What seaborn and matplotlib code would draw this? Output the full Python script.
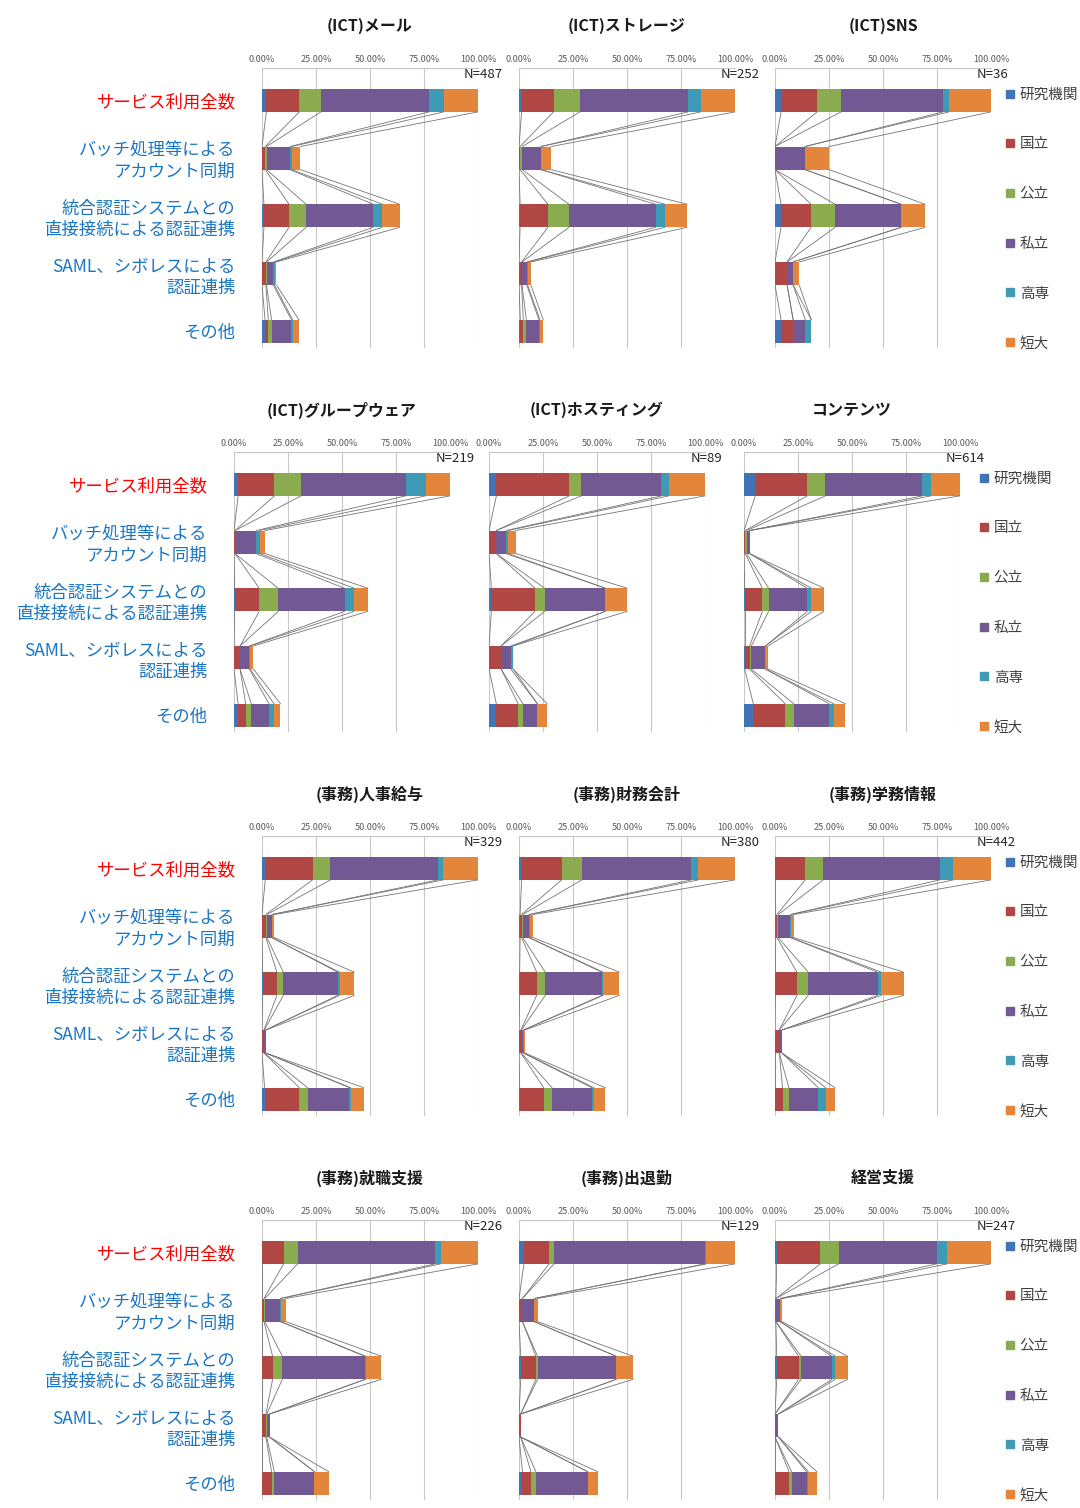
import numpy as np
import pandas as pd
import matplotlib
matplotlib.use("Agg")
import matplotlib.pyplot as plt
from matplotlib.lines import Line2D
import seaborn as sns

sns.set_style("white")
plt.rcParams['font.family'] = ['Noto Sans CJK JP', 'DejaVu Sans']

# categories (rows of each panel) and series (stack segments)
categories = ['サービス利用全数',
              'バッチ処理等による\nアカウント同期',
              '統合認証システムとの\n直接接続による認証連携',
              'SAML、シボレスによる\n認証連携',
              'その他']
series = ['研究機関', '国立', '公立', '私立', '高専', '短大']
colors = ['#4273b5', '#b04745', '#8aac4e', '#735993', '#3e9ab5', '#e3853a']

# share of N (%) per category, series order as above
mail = [[2.0, 15.3, 10.0, 50.1, 6.8, 15.8],
        [0.0, 1.5, 0.6, 10.8, 0.9, 3.9],
        [0.9, 11.6, 7.9, 31.1, 4.2, 8.0],
        [0.0, 1.8, 0.3, 3.1, 0.6, 0.9],
        [1.4, 1.5, 1.5, 9.2, 0.6, 2.9]]
storage = [[1.2, 14.8, 12.2, 50.1, 5.8, 15.9],
           [0.0, 0.5, 1.0, 8.5, 0.3, 4.6],
           [0.5, 12.9, 9.7, 40.1, 4.3, 10.3],
           [0.0, 1.2, 0.2, 2.2, 0.4, 1.5],
           [0.6, 1.4, 1.4, 5.8, 0.5, 1.5]]
sns_data = [[2.8, 16.7, 11.1, 47.2, 2.8, 19.4],
            [0.0, 0.0, 0.0, 13.9, 0.0, 11.1],
            [2.8, 13.9, 11.1, 30.6, 0.0, 11.1],
            [0.0, 5.6, 0.0, 2.8, 0.0, 2.8],
            [2.8, 5.6, 0.0, 5.6, 2.8, 0.0]]
groupware = [[1.9, 16.8, 12.3, 48.5, 9.2, 11.3],
             [0.0, 0.5, 0.0, 9.8, 1.6, 2.5],
             [0.3, 11.4, 8.8, 30.7, 4.5, 6.3],
             [0.0, 2.8, 0.0, 4.3, 0.3, 1.6],
             [1.9, 3.5, 2.6, 8.2, 2.3, 3.0]]
hosting = [[3.4, 33.7, 5.6, 37.1, 3.4, 16.9],
           [0.0, 3.4, 0.0, 4.5, 1.1, 3.4],
           [1.1, 20.2, 4.5, 28.1, 0.0, 10.1],
           [0.0, 5.6, 0.0, 4.5, 1.1, 0.0],
           [3.4, 10.1, 2.2, 6.7, 0.0, 4.5]]
contents = [[5.2, 24.1, 8.4, 44.9, 4.0, 13.4],
            [0.0, 0.6, 0.6, 1.4, 0.0, 0.0],
            [0.3, 8.2, 2.9, 17.9, 1.9, 5.8],
            [0.3, 2.3, 0.8, 6.5, 0.0, 1.2],
            [4.3, 14.8, 3.9, 16.4, 2.1, 5.4]]
jinji = [[1.5, 21.9, 8.3, 49.7, 2.6, 16.0],
         [0.0, 1.8, 0.5, 2.3, 0.0, 1.1],
         [0.3, 6.6, 3.0, 25.2, 0.8, 6.9],
         [0.0, 0.9, 0.2, 0.6, 0.0, 0.2],
         [1.2, 16.1, 3.8, 19.4, 0.6, 6.0]]
zaimu = [[1.2, 18.5, 9.4, 50.7, 3.3, 16.9],
         [0.5, 0.7, 0.5, 2.9, 0.3, 1.7],
         [0.3, 7.9, 4.0, 26.2, 0.6, 7.5],
         [0.0, 0.9, 0.2, 0.9, 0.3, 0.5],
         [0.3, 11.1, 3.9, 18.4, 1.0, 5.2]]
gakumu = [[0.2, 13.8, 8.3, 54.0, 6.3, 17.4],
          [0.3, 0.6, 0.6, 5.6, 0.3, 1.4],
          [0.2, 10.0, 5.2, 32.1, 1.8, 10.3],
          [0.0, 2.0, 0.0, 1.2, 0.0, 0.0],
          [0.0, 3.5, 2.9, 13.7, 3.4, 4.3]]
shushoku = [[0.0, 10.0, 6.5, 63.6, 2.6, 17.3],
            [0.0, 0.9, 0.4, 7.1, 0.4, 2.2],
            [0.0, 4.9, 4.5, 38.2, 0.4, 7.3],
            [0.0, 1.8, 0.4, 1.3, 0.0, 0.0],
            [0.0, 4.4, 1.3, 18.6, 0.0, 6.6]]
shuttaikin = [[2.3, 11.6, 2.3, 69.8, 0.8, 13.2],
              [0.0, 1.6, 0.0, 5.4, 0.0, 1.6],
              [0.8, 7.0, 0.8, 36.4, 0.0, 7.8],
              [0.0, 0.8, 0.0, 0.0, 0.0, 0.0],
              [1.6, 3.9, 2.3, 24.0, 0.0, 4.7]]
keiei = [[0.8, 20.2, 8.5, 45.3, 4.9, 20.2],
         [0.4, 0.0, 0.0, 2.0, 0.0, 0.8],
         [0.8, 10.1, 1.2, 14.2, 1.6, 5.7],
         [0.0, 0.0, 0.0, 1.6, 0.0, 0.0],
         [0.0, 6.5, 1.2, 6.9, 0.8, 4.0]]

titles = ['(ICT)メール', '(ICT)ストレージ', '(ICT)SNS',
          '(ICT)グループウェア', '(ICT)ホスティング', 'コンテンツ',
          '(事務)人事給与', '(事務)財務会計', '(事務)学務情報',
          '(事務)就職支援', '(事務)出退勤', '経営支援']
n_values = [487, 252, 36, 219, 89, 614, 329, 380, 442, 226, 129, 247]
panels = [mail, storage, sns_data, groupware, hosting, contents,
          jinji, zaimu, gakumu, shushoku, shuttaikin, keiei]

W, H = 1080, 1508
fig = plt.figure(figsize=(W / 100, H / 100), dpi=100)

row_tops = [68, 452, 836, 1220]
ax_w, ax_h = 216, 280

for p, (title, n, vals) in enumerate(zip(titles, n_values, panels)):
    r, c = divmod(p, 3)
    lefts = [234, 489, 744] if r == 1 else [262, 519, 775]
    left, top = lefts[c], row_tops[r]
    ax = fig.add_axes([left / W, 1 - (top + ax_h) / H, ax_w / W, ax_h / H])

    df = pd.DataFrame(vals, columns=series)
    df['cat'] = categories
    cum = df[series].cumsum(axis=1)

    # stacked bars: draw cumulative totals from the back
    for k in range(len(series) - 1, -1, -1):
        sns.barplot(x=cum[series[k]], y=df['cat'], orient='h', color=colors[k],
                    width=0.4, saturation=1, linewidth=0, errorbar=None, ax=ax)

    # series lines between consecutive bars
    cv = cum.values
    for i in range(len(categories) - 1):
        for k in range(len(series)):
            ax.plot([cv[i, k], cv[i + 1, k]], [i + 0.2, i + 0.8],
                    color='#757575', lw=0.6, zorder=1)

    ax.set_xlim(0, 100)
    ax.set_ylim(4.29, -0.56)
    ax.set_xlabel('')
    ax.set_ylabel('')
    ax.xaxis.tick_top()
    ax.set_xticks([0, 25, 50, 75, 100])
    ax.set_xticklabels(['0.00%', '25.00%', '50.00%', '75.00%', '100.00%'])
    ax.tick_params(axis='x', length=0, pad=3, labelsize=6.5, labelcolor='#595959')
    ax.grid(axis='x', color='#c8c8c8', lw=0.8)
    ax.set_axisbelow(True)
    for s in ['left', 'right', 'bottom']:
        ax.spines[s].set_visible(False)
    ax.spines['top'].set_color('#c8c8c8')
    ax.spines['top'].set_linewidth(0.8)

    ax.set_yticks(range(len(categories)))
    if c == 0:
        ax.set_yticklabels(categories, fontsize=12.5, linespacing=1.2)
        for j, lab in enumerate(ax.get_yticklabels()):
            lab.set_color('#ff0000' if j == 0 else '#1a75c4')
        ax.tick_params(axis='y', length=0, pad=19)
    else:
        ax.set_yticklabels([])
        ax.tick_params(axis='y', length=0)

    ax.text(93.5, -0.44, f'N={n}', ha='left', va='center', fontsize=9.5,
            color='#262626', clip_on=False)

    fig.text((left + ax_w / 2) / W, 1 - (top - 42) / H, title, ha='center',
             va='center', fontsize=11.5, fontweight='bold', color='#1a1a1a')

# legends, one per row
handles = [Line2D([], [], marker='s', ls='none', color=col, markersize=6)
           for col in colors]
for r, top in enumerate(row_tops):
    lx = 979 if r == 1 else 1005
    fig.legend(handles, series, loc='center left',
               bbox_to_anchor=(lx / W, 1 - (top + 151) / H),
               frameon=False, fontsize=10.5, labelcolor='#404040',
               labelspacing=2.45, handlelength=0.7, handletextpad=0.3,
               borderpad=0, borderaxespad=0)

fig.savefig('out.png', dpi=100)
